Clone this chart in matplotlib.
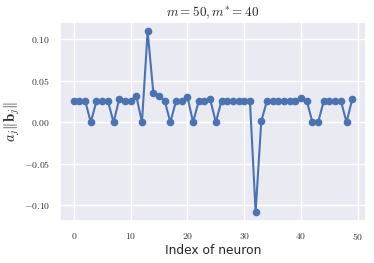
import matplotlib
matplotlib.use("Agg")
import matplotlib.pyplot as plt
import seaborn as sns
from matplotlib.ticker import FuncFormatter

sns.set_theme(style="darkgrid")
plt.rcParams['mathtext.fontset'] = 'cm'

neuron_index = list(range(50))
values = [0.026, 0.026, 0.026, 0.0, 0.026, 0.026, 0.026, 0.0, 0.028, 0.026,
          0.026, 0.032, 0.0, 0.110, 0.0355, 0.032, 0.026, 0.0, 0.026, 0.026,
          0.031, 0.0, 0.026, 0.026, 0.028, 0.0, 0.026, 0.026, 0.026, 0.026,
          0.026, 0.026, -0.108, 0.0015, 0.026, 0.026, 0.026, 0.026, 0.026, 0.026,
          0.029, 0.026, 0.0, 0.0, 0.026, 0.026, 0.026, 0.026, 0.0, 0.028]
title = r"$m = 50, m^{*} = 40$"
xlabel = "Index of neuron"
ylabel = r"$a_j\|\mathbf{b}_j\|$"

fig = plt.figure(figsize=(3.74, 2.63), dpi=100)
ax = fig.add_axes([0.16, 0.16, 0.819, 0.756])
ax.plot(neuron_index, values, marker='o', markersize=4.5, linewidth=1.5, color='#4c72b0')
ax.set_title(title, fontsize=9.5, pad=4)
ax.set_xlabel(xlabel, fontsize=8.8, labelpad=2)
ax.set_ylabel(ylabel, fontsize=10.5)
ax.yaxis.set_label_coords(-0.125, 0.5)
ax.set_xticks([0, 10, 20, 30, 40, 50])
ax.set_yticks([-0.10, -0.05, 0.0, 0.05, 0.10])
ax.xaxis.set_major_formatter(FuncFormatter(lambda v, p: r"$%d$" % v))
ax.yaxis.set_major_formatter(FuncFormatter(lambda v, p: r"$%.2f$" % v))
ax.tick_params(labelsize=7, length=0, pad=7, labelcolor='#333333')
fig.savefig("out.png", dpi=100)
